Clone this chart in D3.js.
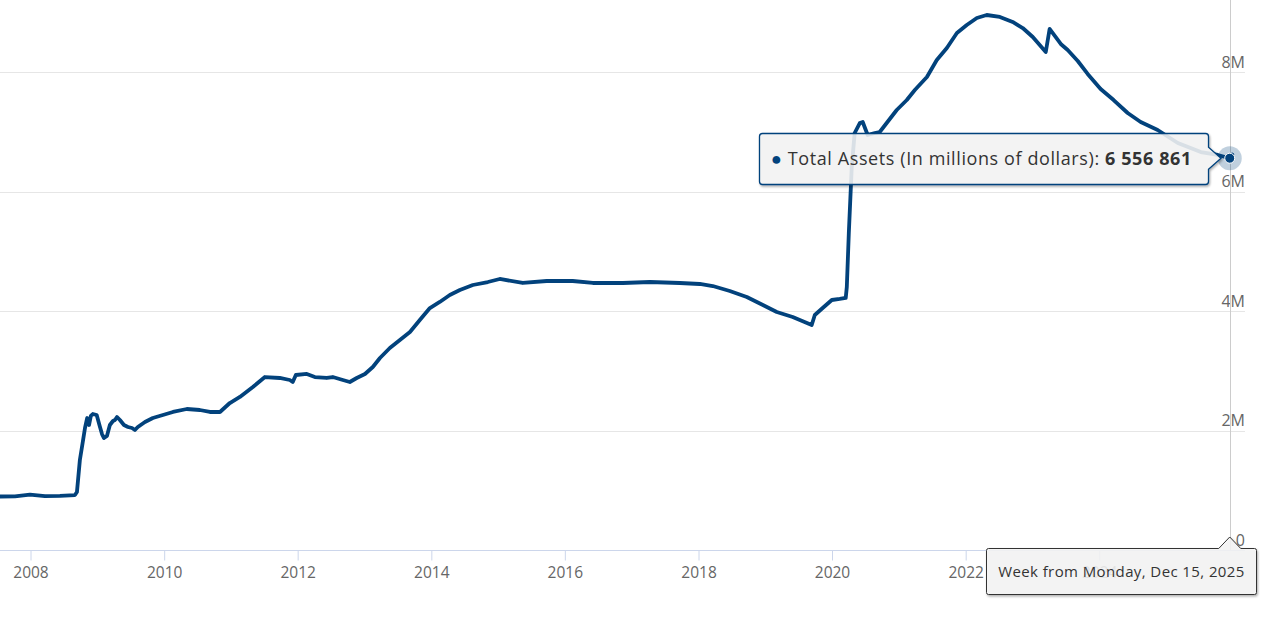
<!DOCTYPE html>
<html>
<head>
<meta charset="utf-8">
<script src="https://cdn.jsdelivr.net/npm/d3@7/dist/d3.min.js"></script>
<style>
  html, body { margin: 0; padding: 0; background: #fff; }
  svg { display: block; font-family: "Open Sans", "Noto Sans", sans-serif; }
</style>
</head>
<body>
<svg id="chart" width="1267" height="617"></svg>
<script>
// ---- data ----
const weeks = [
  "2007-07-17","2007-10-08","2007-12-29","2008-03-20","2008-06-10","2008-08-31","2008-09-11","2008-09-27",
  "2008-10-12","2008-10-25","2008-11-06","2008-11-16","2008-11-26","2008-12-07","2008-12-28","2009-01-15",
  "2009-01-26","2009-02-06","2009-02-22","2009-03-10","2009-03-27","2009-04-07","2009-04-18","2009-05-04",
  "2009-05-26","2009-06-17","2009-07-09","2009-07-25","2009-08-10","2009-09-18","2009-10-31","2009-12-25",
  "2010-02-18","2010-05-05","2010-07-15","2010-09-08","2010-11-02","2010-12-26","2011-02-19","2011-05-01",
  "2011-07-06","2011-09-25","2011-11-19","2011-12-05","2011-12-22","2012-02-20","2012-04-04","2012-06-08",
  "2012-07-11","2012-09-04","2012-10-12","2012-11-19","2013-01-03","2013-02-15","2013-03-26","2013-05-19",
  "2013-07-13","2013-09-06","2013-10-30","2013-12-24","2014-02-16","2014-04-12","2014-06-06","2014-08-16",
  "2014-11-06","2015-01-10","2015-05-16","2015-09-24","2016-02-13","2016-06-02","2016-11-13","2017-04-10",
  "2017-09-21","2018-01-08","2018-03-20","2018-06-21","2018-09-22","2018-12-19","2019-03-05","2019-05-31",
  "2019-09-12","2019-09-29","2019-11-11","2019-12-31","2020-02-12","2020-03-16","2020-03-22","2020-04-02",
  "2020-04-18","2020-05-04","2020-06-01","2020-06-17","2020-07-14","2020-08-22","2020-09-18","2020-10-26",
  "2020-12-20","2021-02-13","2021-03-29","2021-06-03","2021-07-27","2021-09-20","2021-11-14","2022-01-07",
  "2022-03-03","2022-04-26","2022-07-07","2022-09-15","2022-11-09","2023-01-03","2023-03-15","2023-04-05",
  "2023-06-05","2023-07-13","2023-09-06","2023-10-30","2024-01-09","2024-03-20","2024-06-05","2024-08-15",
  "2024-11-16","2025-03-06","2025-07-10","2025-10-11","2025-12-15","2025-12-29"
];
const totalAssets = [
  895000, 897000, 925000, 900000, 905000, 920000, 971000, 1506000,
  1791000, 2042000, 2209000, 2092000, 2243000, 2276000, 2259000, 2059000,
  1941000, 1874000, 1908000, 2092000, 2159000, 2176000, 2226000, 2176000,
  2092000, 2059000, 2042000, 2008000, 2059000, 2142000, 2209000, 2259000,
  2310000, 2360000, 2343000, 2310000, 2310000, 2460000, 2561000, 2728000,
  2895000, 2879000, 2845000, 2812000, 2929000, 2946000, 2895000, 2879000,
  2895000, 2845000, 2812000, 2879000, 2946000, 3063000, 3213000, 3381000,
  3515000, 3649000, 3849000, 4050000, 4151000, 4268000, 4351000, 4435000,
  4485000, 4536000, 4469000, 4502000, 4502000, 4469000, 4469000, 4485000,
  4469000, 4452000, 4418000, 4335000, 4234000, 4100000, 3983000, 3900000,
  3766000, 3933000, 4050000, 4184000, 4201000, 4218000, 4402000, 5305000,
  6410000, 6979000, 7146000, 7163000, 6946000, 6979000, 6996000, 7146000,
  7364000, 7531000, 7699000, 7916000, 8201000, 8402000, 8653000, 8787000,
  8904000, 8954000, 8921000, 8837000, 8736000, 8586000, 8335000, 8720000,
  8469000, 8368000, 8184000, 7967000, 7715000, 7531000, 7314000, 7163000,
  7029000, 6812000, 6661000, 6611000, 6556861, 6620000
];
const yTickValues = [0, 2000000, 4000000, 6000000, 8000000];
const yTickLabels = ["0", "2M", "4M", "6M", "8M"];
const xTickYears = [2008, 2010, 2012, 2014, 2016, 2018, 2020, 2022, 2024];
const seriesName = "Total Assets (In millions of dollars)";
const hoverWeek = "2025-12-15";

// ---- layout ----
const W = 1267, H = 617;
const plotLeft = 0, plotRight = 1245, plotTop = 0, plotBottom = 550;
const lineColor = "#02427c";

const parse = d3.utcParse("%Y-%m-%d");
const data = weeks.map((w, i) => ({ date: parse(w), value: totalAssets[i] }));

const x = d3.scaleUtc()
  .domain([Date.UTC(2008, 0, 1), Date.UTC(2020, 0, 1)])
  .range([30.5, 832]);
const y = d3.scaleLinear().domain([0, 8000000]).range([550, 72]);

const svg = d3.select("#chart");

const defs = svg.append("defs");
defs.append("clipPath").attr("id", "plotclip")
  .append("rect").attr("x", plotLeft).attr("y", plotTop)
  .attr("width", plotRight - plotLeft).attr("height", plotBottom - plotTop);
const f = defs.append("filter").attr("id", "shadow")
  .attr("x", "-10%").attr("y", "-20%").attr("width", "130%").attr("height", "160%");
f.append("feDropShadow").attr("dx", 1).attr("dy", 1.5).attr("stdDeviation", 1.2)
  .attr("flood-color", "#000").attr("flood-opacity", 0.35);

// grid lines
svg.append("g").selectAll("line")
  .data(yTickValues.filter(v => v > 0))
  .join("line")
  .attr("x1", plotLeft).attr("x2", plotRight)
  .attr("y1", d => Math.round(y(d)) + 0.5).attr("y2", d => Math.round(y(d)) + 0.5)
  .attr("stroke", "#e6e6e6").attr("stroke-width", 1);

// y axis labels
const yAxis = d3.axisRight(y).tickValues(yTickValues).tickSize(0)
  .tickFormat((d, i) => yTickLabels[i]);
const gy = svg.append("g").attr("transform", `translate(${plotRight},0)`).call(yAxis);
gy.select(".domain").remove();
gy.selectAll("text")
  .attr("x", 0).attr("dy", null).attr("y", -5)
  .attr("text-anchor", "end")
  .attr("fill", "#666").style("font-size", "16px")
  .style("font-family", '"Open Sans", sans-serif');

// crosshair
const hoverDate = parse(hoverWeek);
const hx = x(hoverDate);
svg.append("line")
  .attr("x1", Math.round(hx) + 0.5).attr("x2", Math.round(hx) + 0.5)
  .attr("y1", plotTop).attr("y2", plotBottom)
  .attr("stroke", "#cccccc").attr("stroke-width", 1);

// x axis
svg.append("line")
  .attr("x1", plotLeft).attr("x2", plotRight)
  .attr("y1", plotBottom + 0.5).attr("y2", plotBottom + 0.5)
  .attr("stroke", "#ccd6eb").attr("stroke-width", 1);
const xAxis = d3.axisBottom(x)
  .tickValues(xTickYears.map(yr => new Date(Date.UTC(yr, 0, 1))))
  .tickSize(10).tickSizeOuter(0)
  .tickFormat(d3.utcFormat("%Y"));
const gx = svg.append("g").attr("transform", `translate(0,${plotBottom + 0.5})`).call(xAxis);
gx.select(".domain").remove();
gx.selectAll(".tick line").attr("stroke", "#ccd6eb");
gx.selectAll("text").attr("y", 23).attr("dy", "0.32em")
  .attr("fill", "#666").style("font-size", "15.5px")
  .style("font-family", '"Open Sans", sans-serif');

// series line
const line = d3.line().x(d => x(d.date)).y(d => y(d.value)).curve(d3.curveLinear);
svg.append("path")
  .datum(data)
  .attr("clip-path", "url(#plotclip)")
  .attr("d", line)
  .attr("fill", "none")
  .attr("stroke", lineColor)
  .attr("stroke-width", 3.8)
  .attr("stroke-linejoin", "round")
  .attr("stroke-linecap", "round");

// hover marker
const hp = data.find(d => +d.date === +hoverDate);
const hy = y(hp.value);
svg.append("circle").attr("cx", hx).attr("cy", hy).attr("r", 12)
  .attr("fill", lineColor).attr("fill-opacity", 0.25);
svg.append("circle").attr("cx", hx).attr("cy", hy).attr("r", 5)
  .attr("fill", lineColor).attr("stroke", "#fff").attr("stroke-width", 1);

// value tooltip
const fmt = d3.formatLocale({ decimal: ".", thousands: " ", grouping: [3], currency: ["", ""] }).format(",");
{
  const bx = 759.5, by = 133.5, bw = 449, bh = 51, r = 3;
  const tipX = 1221, tipY = hy;
  const p = d3.path();
  p.moveTo(bx + r, by);
  p.lineTo(bx + bw - r, by);
  p.quadraticCurveTo(bx + bw, by, bx + bw, by + r);
  p.lineTo(bx + bw, tipY - 11);
  p.lineTo(tipX, tipY);
  p.lineTo(bx + bw, tipY + 11);
  p.lineTo(bx + bw, by + bh - r);
  p.quadraticCurveTo(bx + bw, by + bh, bx + bw - r, by + bh);
  p.lineTo(bx + r, by + bh);
  p.quadraticCurveTo(bx, by + bh, bx, by + bh - r);
  p.lineTo(bx, by + r);
  p.quadraticCurveTo(bx, by, bx + r, by);
  p.closePath();
  svg.append("path").attr("d", p.toString())
    .attr("fill", "#f7f7f7").attr("fill-opacity", 0.85)
    .attr("stroke", lineColor).attr("stroke-width", 1.3)
    .attr("filter", "url(#shadow)");
  const t = svg.append("text").attr("x", 771).attr("y", by + bh / 2).attr("dy", "0.35em")
    .style("font-size", "18px").style("letter-spacing", "0.6px").attr("fill", "#333");
  t.append("tspan").attr("fill", lineColor).text("●");
  t.append("tspan").text(" " + seriesName + ": ");
  t.append("tspan").style("font-weight", "bold").text(fmt(hp.value));
}

// date tooltip
{
  const bx = 986.5, by = 548.5, bw = 270, bh = 46, r = 2;
  const tipX = hx, tipY = 537;
  const p = d3.path();
  p.moveTo(bx + r, by);
  p.lineTo(tipX - 11, by);
  p.lineTo(tipX, tipY);
  p.lineTo(tipX + 11, by);
  p.lineTo(bx + bw - r, by);
  p.quadraticCurveTo(bx + bw, by, bx + bw, by + r);
  p.lineTo(bx + bw, by + bh - r);
  p.quadraticCurveTo(bx + bw, by + bh, bx + bw - r, by + bh);
  p.lineTo(bx + r, by + bh);
  p.quadraticCurveTo(bx, by + bh, bx, by + bh - r);
  p.lineTo(bx, by + r);
  p.quadraticCurveTo(bx, by, bx + r, by);
  p.closePath();
  svg.append("path").attr("d", p.toString())
    .attr("fill", "#f7f7f7").attr("fill-opacity", 0.85)
    .attr("stroke", "#333").attr("stroke-width", 1)
    .attr("filter", "url(#shadow)");
  svg.append("text").attr("x", bx + bw / 2).attr("y", by + bh / 2).attr("dy", "0.35em")
    .attr("text-anchor", "middle")
    .style("font-size", "15px").style("letter-spacing", "0.4px").attr("fill", "#333")
    .text("Week from Monday, " + d3.utcFormat("%b %-d, %Y")(hoverDate));
}
</script>
</body>
</html>
